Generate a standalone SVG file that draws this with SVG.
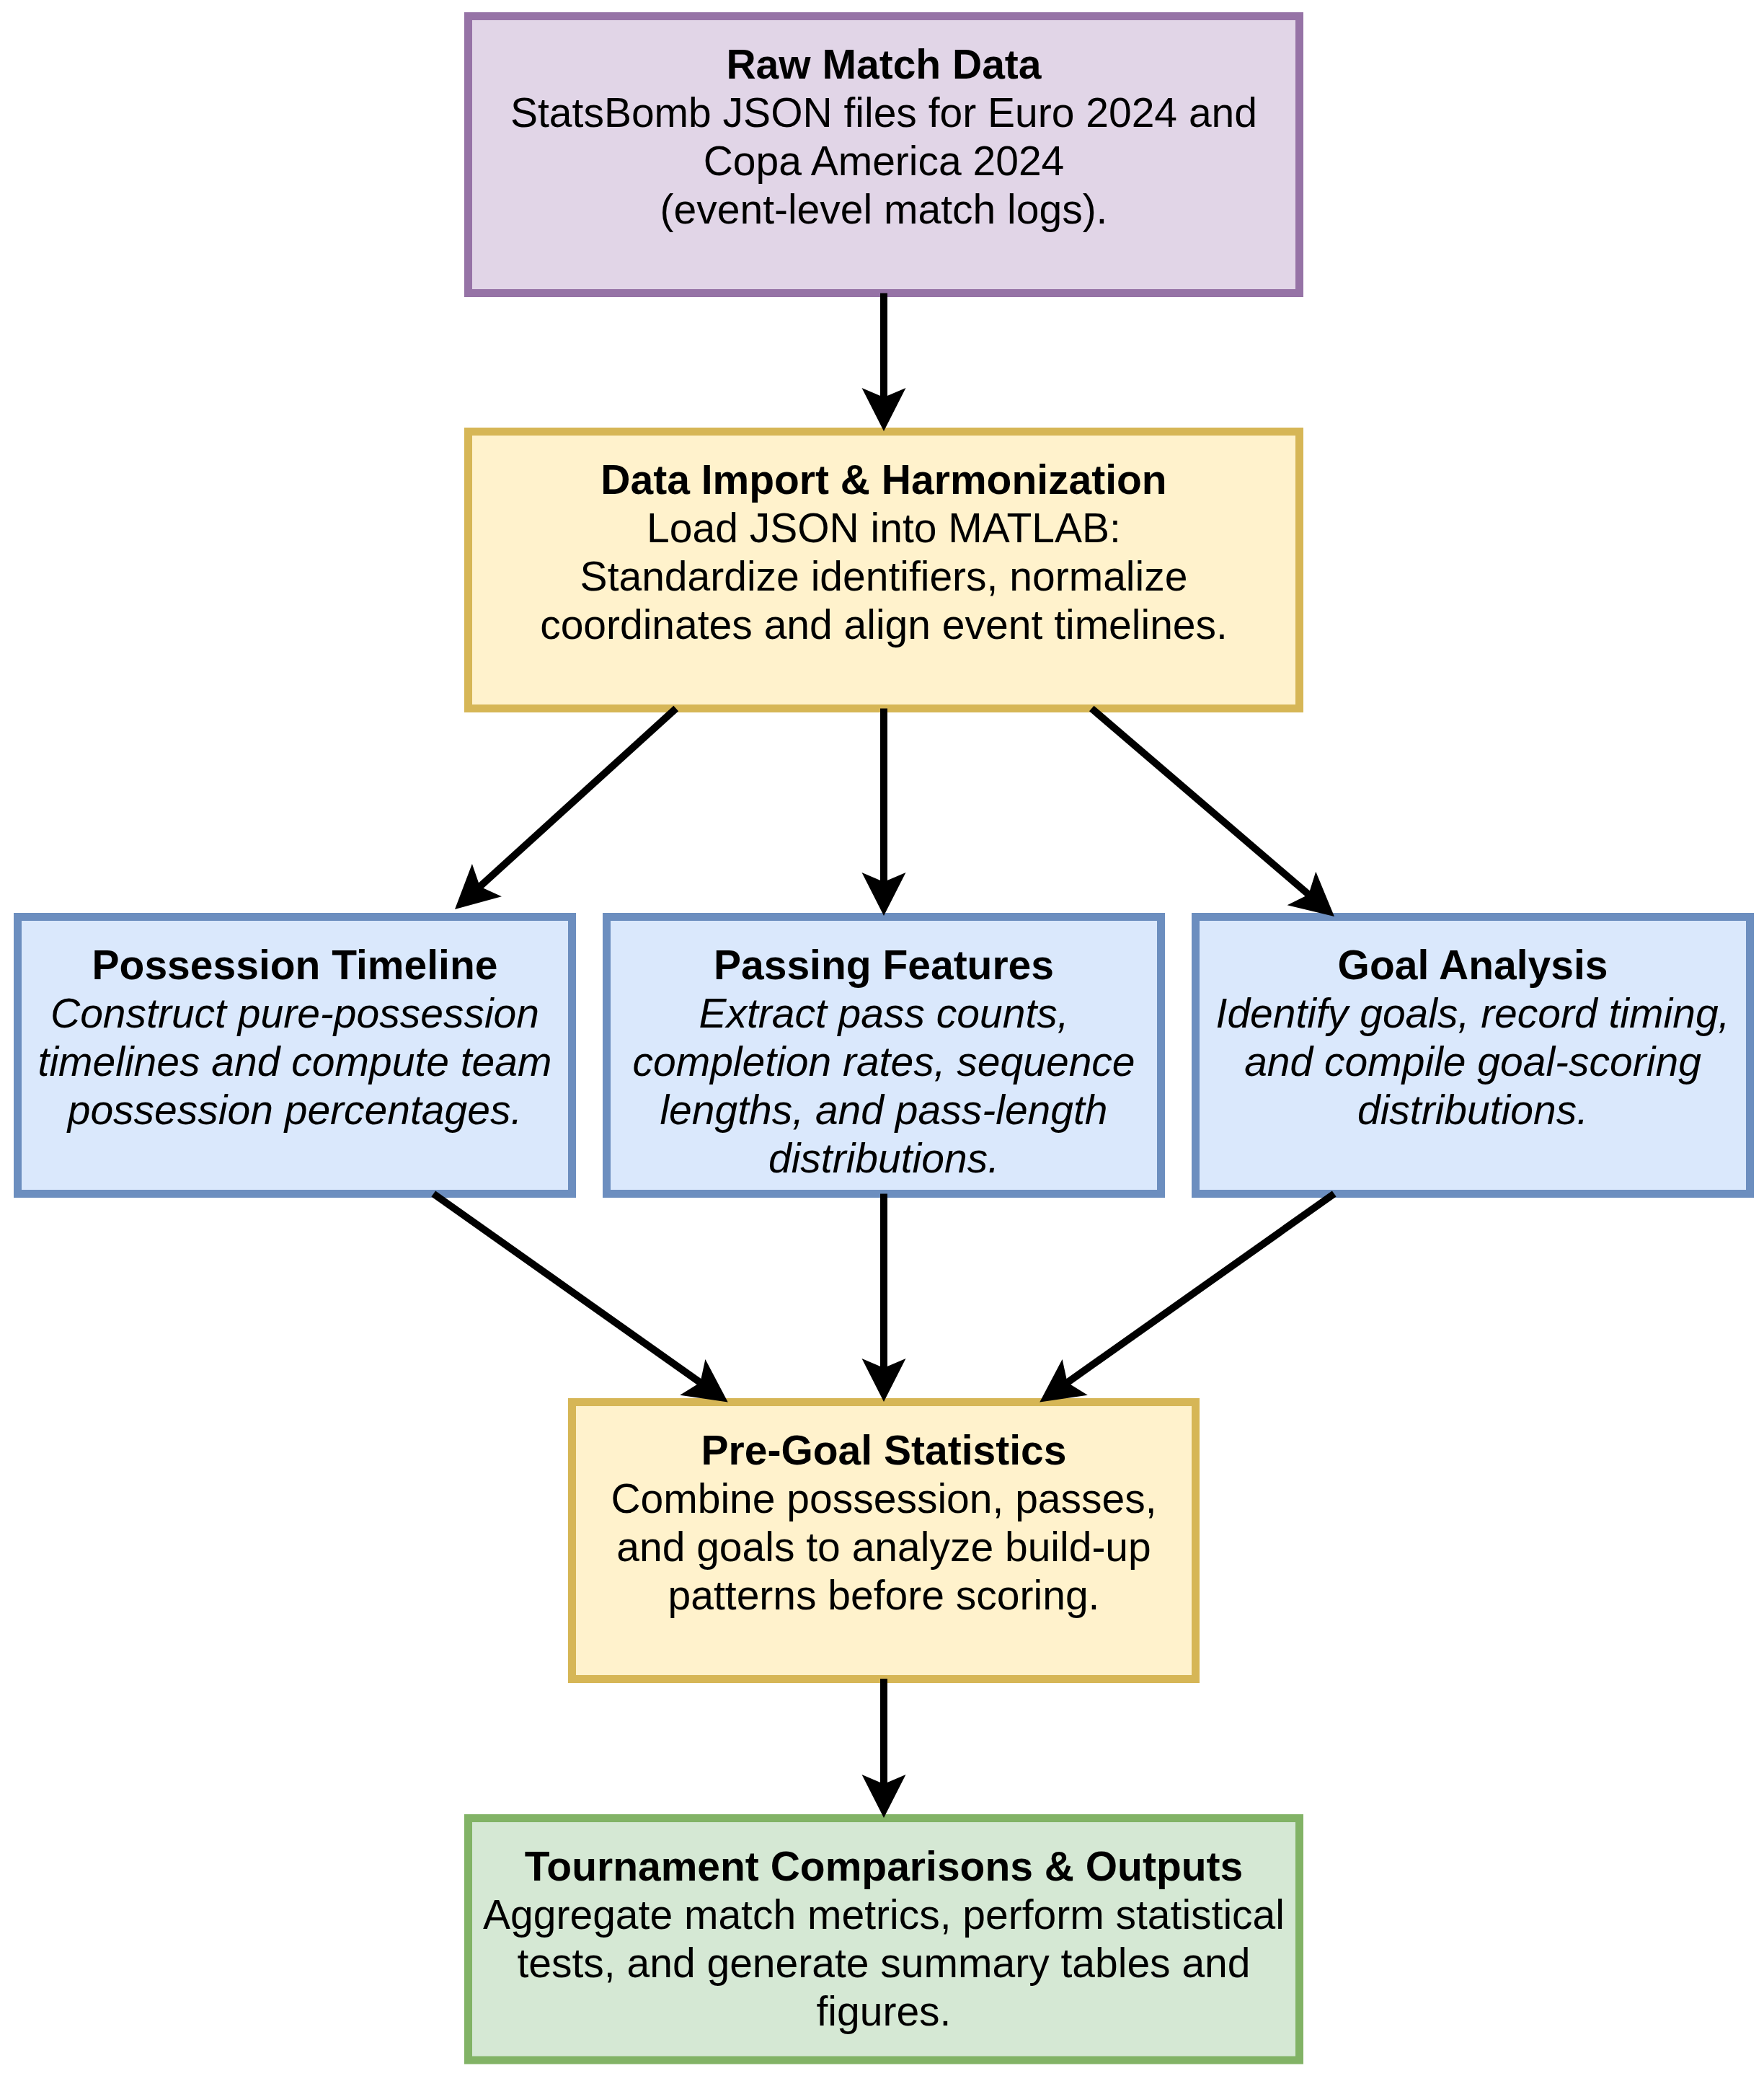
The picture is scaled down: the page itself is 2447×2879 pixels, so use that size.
<svg xmlns="http://www.w3.org/2000/svg" width="2447" height="2879" viewBox="0 0 2447 2879">
  <style>
    .box { stroke-width: 11; }
    .purple { fill: #e1d5e7; stroke: #9673a6; }
    .yellow { fill: #fff2cc; stroke: #d6b656; }
    .blue { fill: #dae8fc; stroke: #6c8ebf; }
    .green { fill: #d5e8d4; stroke: #82b366; }
    text { font-family: "Liberation Sans", Arial, Helvetica, sans-serif; font-size: 57px; text-anchor: middle; fill: #000000; }
    .b { font-weight: bold; }
    .i { font-style: italic; }
    .conn line { stroke: #000000; stroke-width: 10; fill: none; marker-end: url(#arr); }
  </style>
  <defs>
    <marker id="arr" markerUnits="userSpaceOnUse" markerWidth="60" markerHeight="61" viewBox="0 -30.5 60 61" refX="20" refY="0" orient="auto" overflow="visible">
      <path d="M0,-30.5 L60,0 L0,30.5 L13,0 Z" fill="#000000"/>
    </marker>
  </defs>
  <rect width="2447" height="2879" fill="#ffffff"/>

  <g id="raw-match-data">
    <rect class="box purple" x="649.5" y="22.5" width="1153" height="384"/>
    <text x="1226" y="108.5"><tspan class="b">Raw Match Data</tspan><tspan x="1226" dy="67">StatsBomb JSON files for Euro 2024 and</tspan><tspan x="1226" dy="67">Copa America 2024</tspan><tspan x="1226" dy="67">(event-level match logs).</tspan></text>
  </g>

  <g id="data-import">
    <rect class="box yellow" x="649.5" y="598.5" width="1153" height="384"/>
    <text x="1226" y="684.5"><tspan class="b">Data Import &amp; Harmonization</tspan><tspan x="1226" dy="67">Load JSON into MATLAB:</tspan><tspan x="1226" dy="67">Standardize identifiers, normalize</tspan><tspan x="1226" dy="67">coordinates and align event timelines.</tspan></text>
  </g>

  <g id="possession-timeline">
    <rect class="box blue" x="24.5" y="1271.5" width="769" height="384"/>
    <text x="409" y="1357.5"><tspan class="b">Possession Timeline</tspan><tspan class="i" x="409" dy="67">Construct pure-possession</tspan><tspan class="i" x="409" dy="67">timelines and compute team</tspan><tspan class="i" x="409" dy="67">possession percentages.</tspan></text>
  </g>

  <g id="passing-features">
    <rect class="box blue" x="841.5" y="1271.5" width="769" height="384"/>
    <text x="1226" y="1357.5"><tspan class="b">Passing Features</tspan><tspan class="i" x="1226" dy="67">Extract pass counts,</tspan><tspan class="i" x="1226" dy="67">completion rates, sequence</tspan><tspan class="i" x="1226" dy="67">lengths, and pass-length</tspan><tspan class="i" x="1226" dy="67">distributions.</tspan></text>
  </g>

  <g id="goal-analysis">
    <rect class="box blue" x="1658.5" y="1271.5" width="769" height="384"/>
    <text x="2043" y="1357.5"><tspan class="b">Goal Analysis</tspan><tspan class="i" x="2043" dy="67">Identify goals, record timing,</tspan><tspan class="i" x="2043" dy="67">and compile goal-scoring</tspan><tspan class="i" x="2043" dy="67">distributions.</tspan></text>
  </g>

  <g id="pre-goal-statistics">
    <rect class="box yellow" x="793.5" y="1944.5" width="865" height="384"/>
    <text x="1226" y="2030.5"><tspan class="b">Pre-Goal Statistics</tspan><tspan x="1226" dy="67">Combine possession, passes,</tspan><tspan x="1226" dy="67">and goals to analyze build-up</tspan><tspan x="1226" dy="67">patterns before scoring.</tspan></text>
  </g>

  <g id="tournament-comparisons">
    <rect class="box green" x="649.5" y="2521.5" width="1153" height="335.5"/>
    <text x="1226" y="2607.5"><tspan class="b">Tournament Comparisons &amp; Outputs</tspan><tspan x="1226" dy="67">Aggregate match metrics, perform statistical</tspan><tspan x="1226" dy="67">tests, and generate summary tables and</tspan><tspan x="1226" dy="67">figures.</tspan></text>
  </g>

  <g id="connectors" class="conn">
    <line x1="1226" y1="406.5" x2="1226" y2="558"/>
    <line x1="1226" y1="982.5" x2="1226" y2="1230"/>
    <line x1="937.75" y1="982.5" x2="660.6" y2="1234.1"/>
    <line x1="1514.25" y1="982.5" x2="1820.6" y2="1245"/>
    <line x1="601.25" y1="1655.5" x2="977.1" y2="1921.4"/>
    <line x1="1226" y1="1655.5" x2="1226" y2="1904"/>
    <line x1="1850.75" y1="1655.5" x2="1474.9" y2="1921.4"/>
    <line x1="1226" y1="2328" x2="1226" y2="2481"/>
  </g>
</svg>
